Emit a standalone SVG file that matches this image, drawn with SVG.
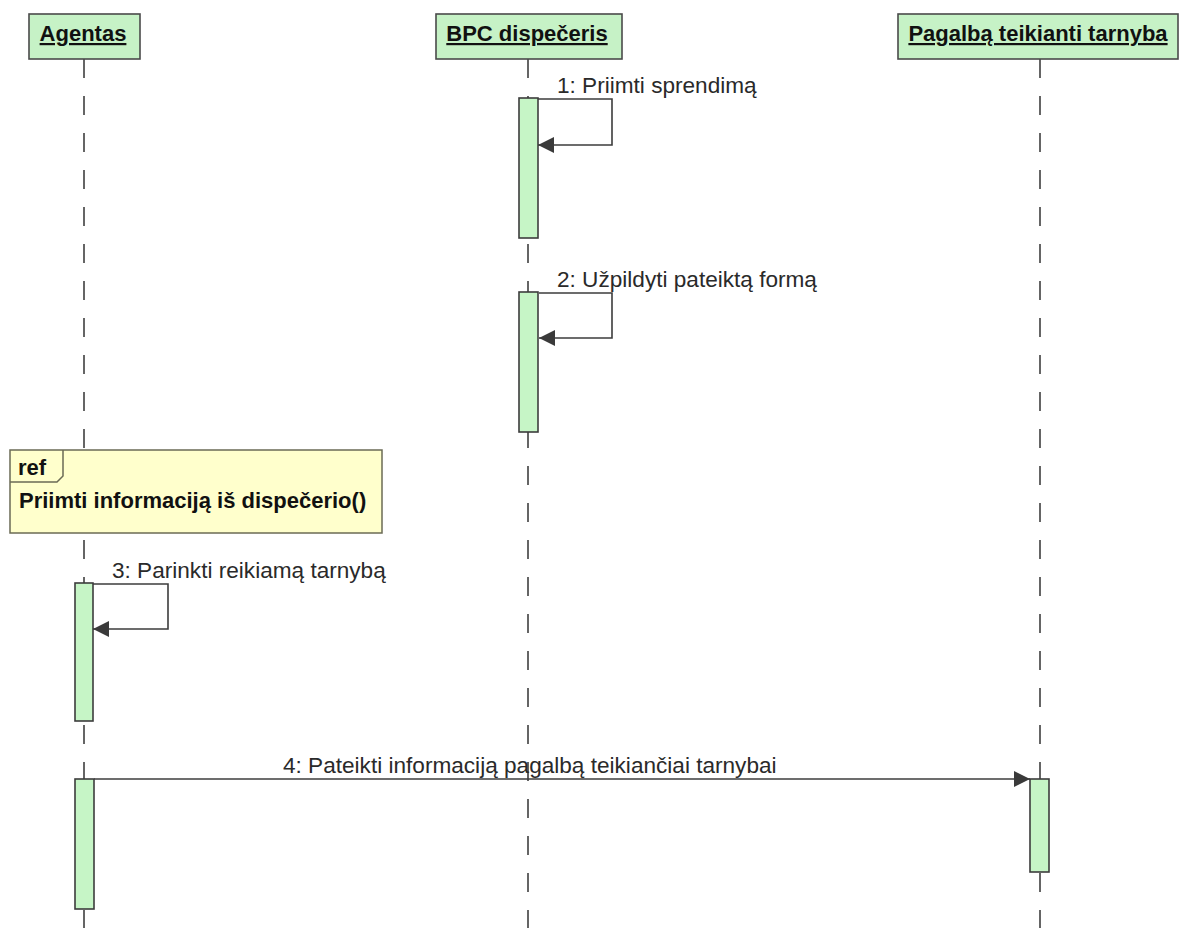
<svg xmlns="http://www.w3.org/2000/svg" width="1179" height="928" viewBox="0 0 1179 928">
  <style>
    .head { fill: #c6f2c6; stroke: #4a4a4a; stroke-width: 1.6; }
    .headtxt { font-family: "Liberation Sans", Arial, sans-serif; font-weight: bold; font-size: 22px; fill: #111; text-anchor: middle; text-decoration: underline; }
    .life { stroke: #333; stroke-width: 1.5; stroke-dasharray: 19 18; fill: none; }
    .act { fill: #c6f5c6; stroke: #3c3c3c; stroke-width: 1.6; }
    .msg { fill: none; stroke: #3c3c3c; stroke-width: 1.6; }
    .lbl { font-family: "Liberation Sans", Arial, sans-serif; font-size: 22.6px; fill: #2a2a2a; }
    .ref { fill: #ffffcc; stroke: #6b6b55; stroke-width: 1.5; }
    .reftxt { font-family: "Liberation Sans", Arial, sans-serif; font-weight: bold; font-size: 22px; fill: #111; }
  </style>
  <defs>
    <marker id="arrow" markerWidth="17" markerHeight="17" refX="16" refY="8.5" orient="auto" markerUnits="userSpaceOnUse">
      <path d="M0,0.5 L16,8.5 L0,16.5 Z" fill="#3a3a3a"/>
    </marker>
  </defs>
  <rect width="1179" height="928" fill="#ffffff"/>

  <!-- lifelines -->
  <g id="lifelines">
    <line class="life" x1="84" y1="59" x2="84" y2="928"/>
    <line class="life" x1="528" y1="59" x2="528" y2="928"/>
    <line class="life" x1="1040" y1="59" x2="1040" y2="928"/>
  </g>

  <!-- participants -->
  <g id="agentas">
    <rect class="head" x="29" y="14" width="111" height="45"/>
    <text class="headtxt" x="83" y="41">Agentas</text>
  </g>
  <g id="bpc-dispeceris">
    <rect class="head" x="436" y="14" width="186" height="45"/>
    <text class="headtxt" x="527" y="41">BPC dispečeris</text>
  </g>
  <g id="pagalba-teikianti-tarnyba">
    <rect class="head" x="898" y="14" width="280" height="45"/>
    <text class="headtxt" x="1038" y="41">Pagalbą teikianti tarnyba</text>
  </g>

  <!-- interaction reference -->
  <g id="ref-priimti-informacija">
    <rect class="ref" x="10" y="450" width="372" height="83"/>
    <path d="M10,482 L57,482 L63,476 L63,450" fill="none" stroke="#6b6b55" stroke-width="1.5"/>
    <text class="reftxt" x="18" y="475">ref</text>
    <text class="reftxt" x="19" y="508">Priimti informaciją iš dispečerio()</text>
  </g>

  <!-- activation bars -->
  <g id="activations">
    <rect id="act-bpc-1" class="act" x="519" y="98" width="19" height="140"/>
    <rect id="act-bpc-2" class="act" x="519" y="292" width="19" height="140"/>
    <rect id="act-agent-3" class="act" x="75" y="583" width="18" height="138"/>
    <rect id="act-agent-4" class="act" x="75" y="779" width="19" height="130"/>
    <rect id="act-tarnyba-4" class="act" x="1030" y="779" width="19" height="93"/>
  </g>

  <!-- messages -->
  <g id="connectors">
    <path class="msg" d="M538,99 H612 V145 H538" marker-end="url(#arrow)"/>
    <path class="msg" d="M539,293 H612 V338 H539" marker-end="url(#arrow)"/>
    <path class="msg" d="M93,584 H168 V629 H93" marker-end="url(#arrow)"/>
    <path class="msg" d="M94,779 H1030" marker-end="url(#arrow)"/>
  </g>

  <!-- message labels -->
  <g id="labels">
    <text class="lbl" x="557" y="93">1: Priimti sprendimą</text>
    <text class="lbl" x="557" y="287">2: Užpildyti pateiktą formą</text>
    <text class="lbl" x="112" y="578">3: Parinkti reikiamą tarnybą</text>
    <text class="lbl" x="283" y="773">4: Pateikti informaciją pagalbą teikiančiai tarnybai</text>
  </g>
</svg>
